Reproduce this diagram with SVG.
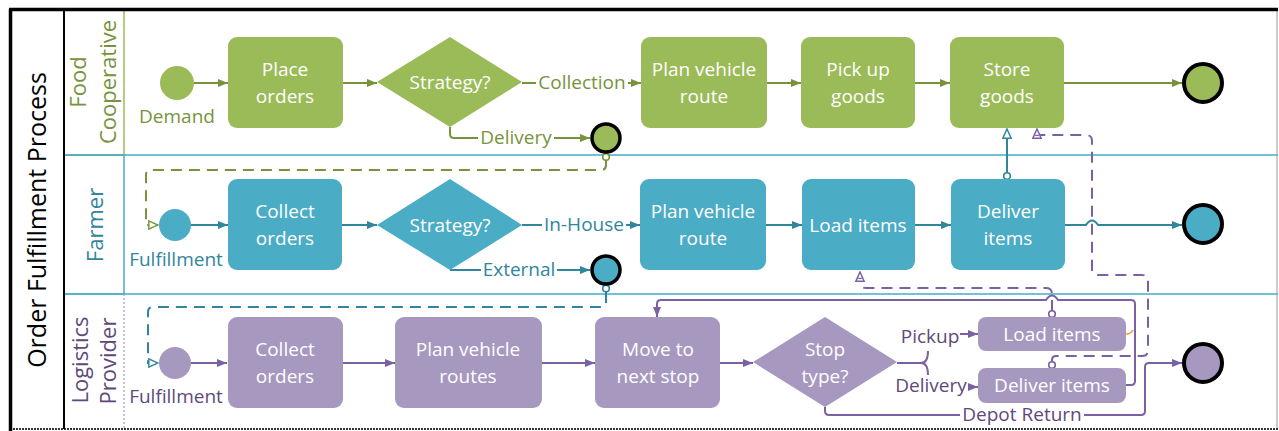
<svg xmlns="http://www.w3.org/2000/svg" width="1279" height="431" viewBox="0 0 1279 431">
<style>
text{font-family:"Open Sans","Noto Sans","Liberation Sans",sans-serif;text-anchor:middle}
.bt{fill:#fff;font-size:19px}
.g{fill:#9BBB59}.b{fill:#4BACC6}.p{fill:#A798C0}
.gl{fill:#77933C}.bl{fill:#31859C}.pl{fill:#5F497A}
.lbl{font-size:19px}
.bg{fill:#fff}
.ln{font-size:22px}
.fg{fill:none;stroke:#77933C;stroke-width:2}
.fb{fill:none;stroke:#31859C;stroke-width:2}
.fp{fill:none;stroke:#7B61A3;stroke-width:2}
.d{stroke-dasharray:11 7}
.end{stroke:#000;stroke-width:4}
.ms{fill:#fff;stroke-width:1.6}
</style>
<defs>
<marker id="aG" viewBox="0 0 10 10" refX="10" refY="5" markerWidth="10" markerHeight="10" markerUnits="userSpaceOnUse" orient="auto"><path d="M0,1 L10,5 L0,9 z" fill="#77933C"/></marker>
<marker id="aB" viewBox="0 0 10 10" refX="10" refY="5" markerWidth="10" markerHeight="10" markerUnits="userSpaceOnUse" orient="auto"><path d="M0,1 L10,5 L0,9 z" fill="#31859C"/></marker>
<marker id="aP" viewBox="0 0 10 10" refX="10" refY="5" markerWidth="10" markerHeight="10" markerUnits="userSpaceOnUse" orient="auto"><path d="M0,1 L10,5 L0,9 z" fill="#7B61A3"/></marker>
<marker id="oG" viewBox="-1 -1 12 12" refX="10" refY="5" markerWidth="11" markerHeight="11" markerUnits="userSpaceOnUse" orient="auto"><path d="M0,0.5 L10,5 L0,9.5 z" fill="#fff" stroke="#77933C" stroke-width="1.6"/></marker>
<marker id="oB" viewBox="-1 -1 12 12" refX="10" refY="5" markerWidth="11" markerHeight="11" markerUnits="userSpaceOnUse" orient="auto"><path d="M0,0.5 L10,5 L0,9.5 z" fill="#fff" stroke="#31859C" stroke-width="1.6"/></marker>
<marker id="oP" viewBox="-1 -1 12 12" refX="10" refY="5" markerWidth="11" markerHeight="11" markerUnits="userSpaceOnUse" orient="auto"><path d="M0,0.5 L10,5 L0,9.5 z" fill="#fff" stroke="#7B61A3" stroke-width="1.6"/><path d="M3,3 L3,7" stroke="#7B61A3" stroke-width="1.4"/></marker>
</defs>
<rect width="1279" height="431" fill="#fff"/>

<g id="pool">
<line x1="64" y1="155" x2="1278" y2="155" stroke="#72C1D4" stroke-width="2"/>
<line x1="64" y1="294" x2="1278" y2="294" stroke="#72C1D4" stroke-width="2"/>
<rect x="64" y="10" width="60" height="145" fill="none" stroke="#9BBB59" stroke-width="1.5"/>
<rect x="64" y="155" width="60" height="139" fill="none" stroke="#4BACC6" stroke-width="1.5"/>
<path d="M64,294 V429 M124,294 V429" stroke="#A798C0" stroke-width="1.2" stroke-dasharray="2 2"/>
<line x1="1277" y1="10" x2="1277" y2="429" stroke="#999" stroke-width="1"/>
<line x1="10" y1="429" x2="1278" y2="429" stroke="#333" stroke-width="2" stroke-dasharray="2 1"/>
<line x1="64" y1="10" x2="64" y2="429" stroke="#000" stroke-width="2"/>
<line x1="10.5" y1="9" x2="10.5" y2="431" stroke="#000" stroke-width="3.5"/>
<line x1="9" y1="9.5" x2="1278" y2="9.5" stroke="#000" stroke-width="3.5"/>
<text transform="translate(46,220) rotate(-90)" style="font-size:25px" fill="#000">Order Fulfillment Process</text>
<text class="ln gl" transform="translate(86,82) rotate(-90)">Food</text>
<text class="ln gl" transform="translate(116,82) rotate(-90)">Cooperative</text>
<text class="ln bl" transform="translate(103,225) rotate(-90)">Farmer</text>
<text class="ln pl" transform="translate(88,360) rotate(-90)">Logistics</text>
<text class="ln pl" transform="translate(116,361) rotate(-90)">Provider</text>
</g>

<g id="connectors">
<path class="fg" d="M194,83 H228" marker-end="url(#aG)"/>
<path class="fg" d="M343,83 H377" marker-end="url(#aG)"/>
<path class="fg" d="M522,83 H641" marker-end="url(#aG)"/>
<path class="fg" d="M767,83 H801" marker-end="url(#aG)"/>
<path class="fg" d="M915,83 H950" marker-end="url(#aG)"/>
<path class="fg" d="M1064,83 H1182" marker-end="url(#aG)"/>
<path class="fg" d="M450,127 V134 q0,4 4,4 H590" marker-end="url(#aG)"/>

<path class="fb" d="M191,225 H228" marker-end="url(#aB)"/>
<path class="fb" d="M342,225 H377" marker-end="url(#aB)"/>
<path class="fb" d="M522,225 H640" marker-end="url(#aB)"/>
<path class="fb" d="M766,225 H802" marker-end="url(#aB)"/>
<path class="fb" d="M915,225 H951" marker-end="url(#aB)"/>
<path class="fb" d="M1065,225 H1086 q6,-9 12,0 H1182" marker-end="url(#aB)"/>
<path class="fb" d="M450,270 H590" marker-end="url(#aB)"/>

<path class="fp" d="M191,363 H227" marker-end="url(#aP)"/>
<path class="fp" d="M343,363 H395" marker-end="url(#aP)"/>
<path class="fp" d="M542,363 H595" marker-end="url(#aP)"/>
<path class="fp" d="M720,363 H753" marker-end="url(#aP)"/>
<path class="fp" d="M897,363 H921 M928,351 q0,12 -7,12 q7,0 7,12"/>
<path class="fp" d="M960,334 H978" marker-end="url(#aP)"/>
<path class="fp" d="M968,387 H978" marker-end="url(#aP)"/>
<path class="fp" d="M825,407 V411 q0,4 4,4 H1141 q4,0 4,-4 V367 q0,-4 4,-4 H1182" marker-end="url(#aP)"/>
<path class="fp" d="M1126,385 H1131 q4,0 4,-4 V304 q0,-4 -4,-4 H1058 q-6,-9 -12,0 H661 q-4,0 -4,4 V317" marker-end="url(#aP)"/>
<path d="M1126,334 q5,0 7,-4" fill="none" stroke="#F79646" stroke-width="1.6"/>

<path class="fg d" d="M606,160 V165 q0,5 -5,5 H151 q-5,0 -5,5 V225 H158" marker-end="url(#oG)"/>
<path class="fb d" d="M606,292 V302 q0,5 -5,5 H153 q-5,0 -5,5 V363 H158" marker-end="url(#oB)"/>
<path class="fb" d="M1007,173 V129" marker-end="url(#oB)"/>
<path class="fp d" d="M1052,311 V294 q0,-6 -6,-6 H866 q-6,0 -6,-6 V272" marker-end="url(#oP)"/>
<path class="fp d" d="M1052,362 V360 q0,-4 4,-4 H1142 q6,0 6,-6 V281 q0,-6 -6,-6 H1098 q-6,0 -6,-6 V141 q0,-6 -6,-6 H1041 q-4,0 -4,-4 V129" marker-end="url(#oP)"/>

<circle class="ms" cx="606" cy="157" r="3.3" stroke="#77933C"/>
<circle class="ms" cx="606" cy="288.5" r="3.3" stroke="#31859C"/>
<circle class="ms" cx="1007" cy="176" r="3.3" stroke="#31859C"/>
<circle class="ms" cx="1052" cy="314" r="3.3" stroke="#7B61A3"/>
<circle class="ms" cx="1052" cy="365" r="3.3" stroke="#7B61A3"/>

<rect class="bg" x="536" y="73" width="92" height="20"/>
<rect class="bg" x="478" y="128" width="76" height="20"/>
<rect class="bg" x="542" y="215" width="84" height="20"/>
<rect class="bg" x="481" y="260" width="76" height="20"/>
<rect class="bg" x="960" y="405" width="124" height="20"/>
<text class="lbl gl" x="582" y="89">Collection</text>
<text class="lbl gl" x="516" y="144">Delivery</text>
<text class="lbl bl" x="584" y="231">In-House</text>
<text class="lbl bl" x="519" y="276">External</text>
<text class="lbl pl" x="930" y="343">Pickup</text>
<text class="lbl pl" x="931" y="392">Delivery</text>
<text class="lbl pl" x="1022" y="421">Depot Return</text>
</g>

<g id="fc-demand"><circle class="g" cx="177" cy="83" r="17"/><text class="gl" x="177" y="123" style="font-size:19px">Demand</text></g>
<g id="fc-place"><rect class="g" x="228" y="37" width="115" height="91" rx="9"/><text class="bt" x="285" y="76">Place</text><text class="bt" x="285" y="103">orders</text></g>
<g id="fc-strategy"><path class="g" d="M377,82 L450,37 L522,82 L450,127 z"/><text class="bt" x="450" y="89">Strategy?</text></g>
<g id="fc-plan"><rect class="g" x="641" y="37" width="126" height="91" rx="9"/><text class="bt" x="704" y="76">Plan vehicle</text><text class="bt" x="704" y="103">route</text></g>
<g id="fc-pickup"><rect class="g" x="801" y="37" width="114" height="91" rx="9"/><text class="bt" x="858" y="76">Pick up</text><text class="bt" x="858" y="103">goods</text></g>
<g id="fc-store"><rect class="g" x="950" y="37" width="114" height="91" rx="9"/><text class="bt" x="1007" y="76">Store</text><text class="bt" x="1007" y="103">goods</text></g>
<g id="fc-end"><circle class="g end" cx="1203" cy="83" r="19"/></g>
<g id="fc-end-delivery"><circle class="g" cx="606" cy="138" r="14" stroke="#000" stroke-width="3.5"/></g>

<g id="fa-start"><circle class="b" cx="175" cy="225" r="16"/><text class="bl" x="176" y="266" style="font-size:19px">Fulfillment</text></g>
<g id="fa-collect"><rect class="b" x="228" y="179" width="114" height="91" rx="9"/><text class="bt" x="285" y="218">Collect</text><text class="bt" x="285" y="245">orders</text></g>
<g id="fa-strategy"><path class="b" d="M377,225 L450,179 L522,225 L450,270 z"/><text class="bt" x="450" y="232">Strategy?</text></g>
<g id="fa-plan"><rect class="b" x="640" y="179" width="126" height="91" rx="9"/><text class="bt" x="703" y="218">Plan vehicle</text><text class="bt" x="703" y="245">route</text></g>
<g id="fa-load"><rect class="b" x="802" y="179" width="113" height="91" rx="9"/><text class="bt" x="858" y="232">Load items</text></g>
<g id="fa-deliver"><rect class="b" x="951" y="179" width="114" height="91" rx="9"/><text class="bt" x="1008" y="218">Deliver</text><text class="bt" x="1008" y="245">items</text></g>
<g id="fa-end"><circle class="b end" cx="1203" cy="224" r="19"/></g>
<g id="fa-end-external"><circle class="b" cx="606" cy="270" r="14" stroke="#000" stroke-width="3.5"/></g>

<g id="lp-start"><circle class="p" cx="175" cy="363" r="16"/><text class="pl" x="176" y="403" style="font-size:19px">Fulfillment</text></g>
<g id="lp-collect"><rect class="p" x="228" y="317" width="115" height="91" rx="9"/><text class="bt" x="285" y="356">Collect</text><text class="bt" x="285" y="383">orders</text></g>
<g id="lp-plan"><rect class="p" x="395" y="317" width="147" height="91" rx="9"/><text class="bt" x="468" y="356">Plan vehicle</text><text class="bt" x="468" y="383">routes</text></g>
<g id="lp-move"><rect class="p" x="595" y="317" width="125" height="91" rx="9"/><text class="bt" x="658" y="356">Move to</text><text class="bt" x="658" y="383">next stop</text></g>
<g id="lp-stoptype"><path class="p" d="M753,362 L825,317 L897,362 L825,407 z"/><text class="bt" x="825" y="356">Stop</text><text class="bt" x="825" y="383">type?</text></g>
<g id="lp-load"><rect class="p" x="978" y="317" width="148" height="34" rx="8"/><text class="bt" x="1052" y="341">Load items</text></g>
<g id="lp-deliver"><rect class="p" x="978" y="368" width="148" height="35" rx="8"/><text class="bt" x="1052" y="392">Deliver items</text></g>
<g id="lp-end"><circle class="p end" cx="1203" cy="363" r="19"/></g>
</svg>
